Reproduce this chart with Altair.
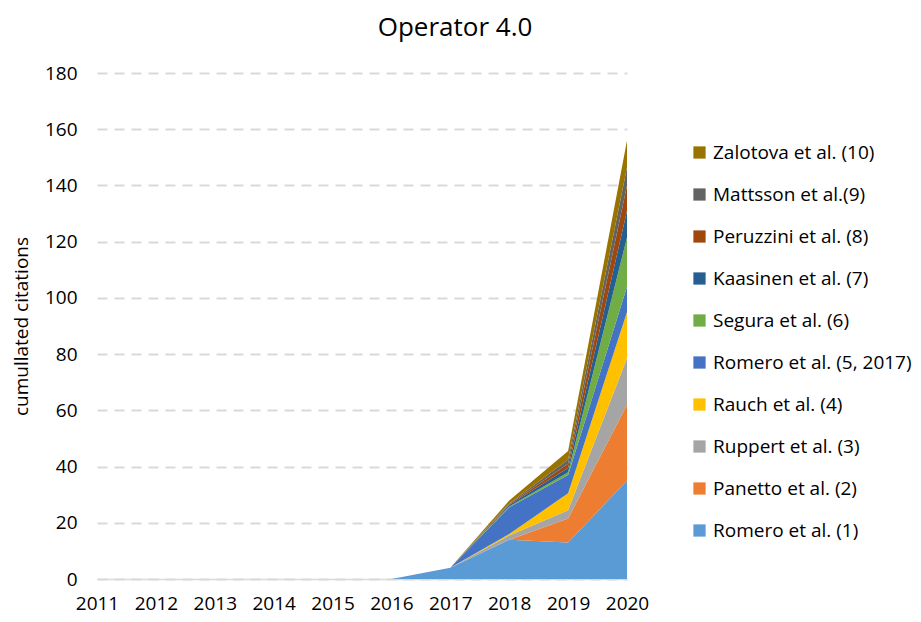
import altair as alt
import pandas as pd

years = [2011, 2012, 2013, 2014, 2015, 2016, 2017, 2018, 2019, 2020]

series_names = [
    "Romero et al. (1)",
    "Panetto et al. (2)",
    "Ruppert et al. (3)",
    "Rauch et al. (4)",
    "Romero et al. (5, 2017)",
    "Segura et al. (6)",
    "Kaasinen et al. (7)",
    "Peruzzini et al. (8)",
    "Mattsson et al.(9)",
    "Zalotova et al. (10)",
]

romero1 = [0, 0, 0, 0, 0, 0, 4, 14, 13, 35]
panetto2 = [0, 0, 0, 0, 0, 0, 0, 0, 8.5, 27]
ruppert3 = [0, 0, 0, 0, 0, 0, 0, 1.5, 3, 16.5]
rauch4 = [0, 0, 0, 0, 0, 0, 0, 0.5, 6, 16.5]
romero5 = [0, 0, 0, 0, 0, 0, 0, 9.5, 6.5, 9]
segura6 = [0, 0, 0, 0, 0, 0, 0, 0.3, 1, 17.5]
kaasinen7 = [0, 0, 0, 0, 0, 0, 0, 0.5, 1.5, 9.5]
peruzzini8 = [0, 0, 0, 0, 0, 0, 0, 0.3, 1.5, 9]
mattsson9 = [0, 0, 0, 0, 0, 0, 0, 0.3, 1.5, 6.5]
zalotova10 = [0, 0, 0, 0, 0, 0, 0, 1.0, 3, 9.5]

series_values = [romero1, panetto2, ruppert3, rauch4, romero5,
                 segura6, kaasinen7, peruzzini8, mattsson9, zalotova10]

colors = ["#5B9BD5", "#ED7D31", "#A5A5A5", "#FFC000", "#4472C4",
          "#70AD47", "#255E91", "#9E480E", "#636363", "#997300"]

y_ticks = [0, 20, 40, 60, 80, 100, 120, 140, 160, 180]

rows = []
for i, (name, vals) in enumerate(zip(series_names, series_values)):
    for y, v in zip(years, vals):
        rows.append({"year": y, "series": name, "value": v, "idx": i})
df = pd.DataFrame(rows)

names_rev = series_names[::-1]
colors_rev = colors[::-1]

FONT = "Open Sans"

chart = alt.Chart(df).mark_area(opacity=1).encode(
    x=alt.X("year:Q",
            scale=alt.Scale(domain=[2011, 2020], nice=False, zero=False),
            axis=alt.Axis(values=years, format="d", grid=False, ticks=False,
                          domainColor="#D9D9D9", domainWidth=1.5,
                          labelFontSize=19, labelPadding=15, labelColor="#000000",
                          labelOverlap=False, labelFlush=False,
                          title=None)),
    y=alt.Y("value:Q", stack="zero",
            scale=alt.Scale(domain=[0, 180], nice=False),
            axis=alt.Axis(values=y_ticks, grid=True, gridDash=[10, 7],
                          gridColor="#D9D9D9", gridWidth=2, domain=False,
                          ticks=False, labelPadding=20, labelFontSize=19,
                          labelColor="#000000",
                          title="cumullated citations", titleFontSize=19,
                          titleFontWeight="normal", titleColor="#000000",
                          titlePadding=13)),
    color=alt.Color("series:N",
                    scale=alt.Scale(domain=names_rev, range=colors_rev),
                    sort=names_rev,
                    legend=alt.Legend(orient="none", legendX=593, legendY=70,
                                      title=None, symbolType="square",
                                      symbolSize=150, symbolStrokeWidth=0,
                                      labelFontSize=19, labelColor="#000000",
                                      rowPadding=22, padding=0,
                                      labelOffset=4, labelLimit=300)),
    order=alt.Order("idx:Q", sort="ascending"),
).properties(
    width=530,
    height=506,
    title=alt.TitleParams("Operator 4.0", fontSize=26, fontWeight="normal",
                          anchor="middle", dx=93, offset=23, color="#000000"),
    padding={"left": 89, "top": 65, "right": 286, "bottom": 35},
    autosize=alt.AutoSizeParams(type="none"),
).configure(
    font=FONT,
).configure_view(
    stroke=None,
)

chart.save("out.html", embed_options={"renderer": "svg", "actions": False})
